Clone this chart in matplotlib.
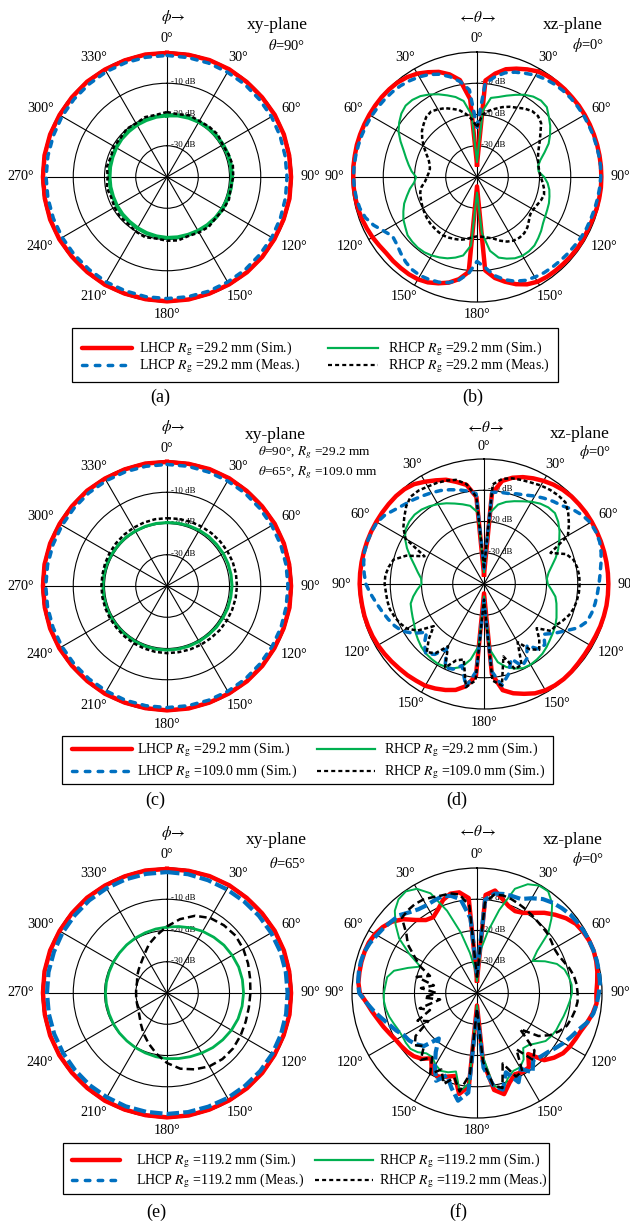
import numpy as np
import matplotlib
matplotlib.use("Agg")
import matplotlib.pyplot as plt
from matplotlib.patches import Rectangle

plt.rcParams["font.family"] = "Liberation Serif"
plt.rcParams["mathtext.fontset"] = "stix"

W, H = 630, 1224
R = 125  # radius of the polar plots in pixels

# sample angles, degrees clockwise from the top
ang_xy = np.arange(0, 360, 10)
ang_xz = np.arange(0, 360, 5)

xy_ticks = ["0°", "30°", "60°", "90°", "120°", "150°", "180°", "210°", "240°", "270°", "300°", "330°"]
xz_ticks = ["0°", "30°", "60°", "90°", "120°", "150°", "180°", "150°", "120°", "90°", "60°", "30°"]
db_rings = [-10, -20, -30]

# ---- (a) xy-plane, theta = 90 deg, Rg = 29.2 mm
a_lhcp_sim = [-0.3, -0.3, -0.2, -0.2, -0.3, -0.3, -0.2, -0.2, -0.3, -0.3, -0.2, -0.3,
              -0.3, -0.2, -0.2, -0.3, -0.3, -0.2, -0.2, -0.3, -0.3, -0.2, -0.3, -0.3,
              -0.2, -0.2, -0.3, -0.3, -0.2, -0.2, -0.3, -0.3, -0.2, -0.3, -0.3, -0.2]
a_lhcp_meas = [-1.1, -1.2, -1.2, -1.3, -1.3, -1.4, -1.4, -1.5, -1.6, -1.6, -1.5, -1.4,
               -1.3, -1.3, -1.2, -1.2, -1.1, -1.1, -1.1, -1.1, -1.2, -1.2, -1.3, -1.3,
               -1.3, -1.3, -1.3, -1.3, -1.3, -1.3, -1.2, -1.2, -1.2, -1.1, -1.1, -1.1]
a_rhcp_sim = [-20.3, -20.0, -19.8, -19.6, -19.5, -19.4, -19.3, -19.2, -19.2, -19.2, -19.3, -19.4,
              -19.5, -19.7, -19.9, -20.1, -20.3, -20.4, -20.5, -20.7, -20.9, -21.1, -21.3, -21.4,
              -21.5, -21.6, -21.6, -21.6, -21.5, -21.4, -21.2, -21.0, -20.9, -20.7, -20.6, -20.4]
a_rhcp_meas = [-19.2, -19.6, -19.0, -19.3, -19.0, -18.8, -19.4, -19.0, -18.6, -18.8, -19.3, -18.9,
               -19.2, -19.6, -19.2, -19.5, -19.9, -19.4, -19.6, -20.0, -19.5, -19.9, -20.5, -20.3,
               -20.6, -21.0, -20.4, -21.0, -20.5, -20.9, -20.4, -20.6, -19.9, -20.2, -19.6, -19.8]

# ---- (b) xz-plane, phi = 0 deg, Rg = 29.2 mm
b_lhcp_sim = [-36, -9, -6.4, -4.3, -3.1, -2.0, -1.0, -0.6, -0.4, -0.3, -0.3, -0.2, -0.2, -0.2, -0.2, -0.2, -0.2, -0.2,
              -0.2, -0.2, -0.3, -0.4, -0.6, -0.7, -0.6, -0.6, -0.7, -0.8, -0.9, -1.0, -1.3, -2.1, -3.5, -5.3, -7.2, -10,
              -37, -9.5, -6.8, -5.0, -3.8, -2.8, -2.2, -2.0, -2.0, -2.0, -2.1, -1.8, -1.4, -1.1, -0.8, -0.6, -0.5, -0.4,
              -0.4, -0.3, -0.3, -0.2, -0.2, -0.2, -0.2, -0.2, -0.2, -0.3, -0.5, -1.0, -1.8, -3.0, -4.2, -6.0, -8.5, -15]
b_lhcp_meas = [-24, -10, -7.5, -5.5, -4.3, -3.4, -2.4, -1.8, -1.3, -1.0, -0.8, -0.7, -0.6, -0.6, -0.5, -0.5, -0.4, -0.3,
               -0.4, -0.6, -0.8, -1.0, -1.2, -1.3, -1.5, -1.8, -2.0, -2.2, -2.4, -2.6, -3.0, -3.5, -4.5, -6.0, -8.0, -11,
               -13, -9, -6.5, -5.0, -4.2, -3.8, -3.6, -3.8, -4.5, -5.5, -6.5, -7.0, -5.5, -3.5, -2.0, -1.2, -0.8, -0.6,
               -0.5, -0.5, -0.6, -0.7, -0.8, -0.9, -1.0, -1.2, -1.4, -1.6, -1.9, -2.4, -3.0, -3.8, -5.0, -6.8, -9.0, -12]
b_rhcp_sim = [-35, -18.7, -14.3, -13.5, -12.3, -11.0, -9.6, -8.6, -8.1, -8.4, -10.0, -11.4, -13.0, -14.7, -17.0, -19.0, -20.2, -20.2,
              -18.5, -17.3, -16.5, -16.0, -15.5, -15.2, -14.8, -14.2, -13.2, -12.3, -11.4, -11.0, -10.9, -11.3, -12.2, -13.3, -16.0, -22,
              -35, -18, -14.5, -13.3, -12.3, -11.6, -11.0, -10.6, -10.5, -10.7, -11.0, -12.0, -12.8, -14.0, -15.2, -16.8, -18.2, -19.8,
              -20.5, -19.0, -17.8, -16.5, -15.0, -13.0, -11.0, -9.6, -8.4, -7.7, -7.8, -8.4, -9.5, -10.8, -12.2, -13.5, -15.3, -20]
b_rhcp_meas = [-24, -20, -18.5, -17.4, -16.2, -15.2, -14.4, -13.3, -12.5, -12.4, -13.2, -15.2, -16.8, -18.2, -19.2, -19.8, -20.0, -20.0,
               -19.6, -18.9, -18.2, -17.8, -18.2, -18.8, -19.2, -19.2, -18.3, -17.2, -16.5, -16.3, -16.5, -17.2, -18.3, -19.6, -20.3, -20.8,
               -21, -20.6, -19.8, -19.2, -18.9, -18.6, -18.4, -18.5, -18.7, -18.9, -19.2, -19.6, -20.0, -20.4, -20.8, -21.2, -22.0, -23.3,
               -24.0, -24.5, -24.7, -24.3, -23.5, -22.0, -20.3, -18.6, -17.0, -15.9, -14.8, -14.4, -15.0, -15.7, -16.8, -17.8, -19.5, -21.5]

# ---- (c) xy-plane, Rg = 29.2 mm and 109.0 mm
c_lhcp_29 = [-0.3, -0.3, -0.2, -0.2, -0.3, -0.3, -0.2, -0.2, -0.3, -0.3, -0.2, -0.3,
             -0.3, -0.2, -0.2, -0.3, -0.3, -0.2, -0.2, -0.3, -0.3, -0.2, -0.3, -0.3,
             -0.2, -0.2, -0.3, -0.3, -0.2, -0.2, -0.3, -0.3, -0.2, -0.3, -0.3, -0.2]
c_lhcp_109 = [-1.1, -1.1, -1.2, -1.2, -1.2, -1.3, -1.3, -1.3, -1.3, -1.3, -1.3, -1.2,
              -1.2, -1.2, -1.1, -1.1, -1.1, -1.1, -1.1, -1.1, -1.1, -1.2, -1.2, -1.2,
              -1.2, -1.2, -1.2, -1.2, -1.2, -1.2, -1.2, -1.2, -1.1, -1.1, -1.1, -1.1]
c_rhcp_29 = [-19.7, -19.6, -19.5, -19.4, -19.3, -19.3, -19.2, -19.2, -19.2, -19.2, -19.3, -19.3,
             -19.4, -19.4, -19.5, -19.5, -19.5, -19.5, -19.5, -19.5, -19.5, -19.5, -19.5, -19.5,
             -19.5, -19.5, -19.5, -19.5, -19.5, -19.5, -19.6, -19.6, -19.6, -19.7, -19.7, -19.7]
c_rhcp_109 = [-18.3, -18.2, -18.1, -18.0, -17.9, -17.8, -17.7, -17.6, -17.6, -17.6, -17.7, -17.8,
              -17.9, -18.0, -18.2, -18.3, -18.4, -18.5, -18.5, -18.6, -18.7, -18.8, -18.9, -19.0,
              -19.0, -19.0, -19.0, -19.0, -19.0, -18.9, -18.8, -18.7, -18.6, -18.5, -18.4, -18.3]

# ---- (d) xz-plane, Rg = 29.2 mm and 109.0 mm
d_lhcp_29 = [-37, -11, -6.5, -4.8, -3.6, -2.7, -1.9, -1.2, -0.7, -0.4, -0.3, -0.2, -0.2, -0.2, -0.2, -0.2, -0.2, -0.2,
             -0.2, -0.2, -0.2, -0.3, -0.4, -0.6, -0.7, -0.7, -0.6, -0.4, -0.3, -0.4, -0.7, -1.4, -2.6, -3.8, -5.5, -11,
             -37, -10.5, -6.8, -4.9, -3.9, -3.1, -2.4, -2.2, -1.9, -1.7, -1.4, -1.1, -0.8, -0.6, -0.5, -0.4, -0.4, -0.3,
             -0.2, -0.2, -0.2, -0.2, -0.2, -0.2, -0.2, -0.2, -0.2, -0.2, -0.4, -1.0, -2.2, -3.4, -4.5, -6.2, -7.8, -12]
d_lhcp_109 = [-35, -10.5, -10.2, -10.0, -9.3, -8.6, -7.5, -6.5, -5.5, -4.6, -2.9, -1.6, -0.7, -0.5, -0.6, -1.2, -2.0, -2.7,
              -3.2, -3.6, -3.9, -4.3, -4.9, -6.8, -10.0, -12.5, -15.0, -12.5, -12.8, -16.0, -12.5, -11.0, -14.5, -10.0, -7.0, -12,
              -35, -12, -6.5, -13, -11, -10.5, -16, -12.5, -11, -13, -16, -12.5, -9.8, -8.4, -7.3, -6.2, -5.0, -3.6,
              -2.2, -1.5, -0.9, -0.4, -0.3, -0.3, -0.5, -1.4, -2.9, -4.0, -4.8, -5.6, -6.3, -7.0, -7.9, -8.8, -9.8, -11]
d_rhcp_29 = [-36, -17, -14.2, -12.8, -11.8, -10.8, -9.6, -8.6, -8.0, -7.9, -9.0, -10.5, -12.2, -13.8, -15.6, -17.5, -19.0, -19.8,
             -19.6, -18.3, -16.8, -16.0, -15.3, -14.4, -13.6, -13.0, -12.4, -11.6, -10.9, -10.5, -10.2, -10.3, -11.2, -12.5, -14.6, -19,
             -36, -20, -15.5, -12.5, -11.3, -10.8, -10.5, -10.7, -11.0, -11.6, -12.4, -13.2, -14.2, -14.8, -15.3, -15.7, -17.0, -18.5,
             -20.0, -19.8, -18.5, -17.0, -15.0, -12.8, -10.8, -9.4, -8.8, -8.6, -8.9, -9.6, -10.5, -11.5, -12.6, -13.6, -14.6, -17]
d_rhcp_109 = [-35, -8, -5.8, -5.0, -4.6, -4.2, -3.6, -3.2, -3.0, -3.1, -4.8, -6.8, -9.0, -16.5, -12.0, -10.3, -9.7, -9.4,
              -9.4, -9.5, -9.8, -10.2, -11.0, -12.2, -13.5, -13.8, -18.0, -15.0, -12.5, -14.5, -18.5, -11.5, -11.0, -16.0, -7.0, -9,
              -35, -9, -6.5, -15, -14, -10.5, -17, -13, -11.5, -15, -19, -14, -11.5, -10.3, -9.5, -8.8, -8.6, -8.5,
              -8.2, -8.3, -9.0, -10.0, -13.5, -19.0, -11.0, -8.5, -6.7, -4.8, -3.5, -3.5, -4.0, -4.3, -4.8, -5.5, -7.5, -12]

# ---- (e) xy-plane, theta = 65 deg, Rg = 119.2 mm
e_lhcp_sim = [-0.3, -0.3, -0.2, -0.2, -0.3, -0.3, -0.2, -0.2, -0.3, -0.3, -0.2, -0.3,
              -0.3, -0.2, -0.2, -0.3, -0.3, -0.2, -0.2, -0.3, -0.3, -0.2, -0.3, -0.3,
              -0.2, -0.2, -0.3, -0.3, -0.2, -0.2, -0.3, -0.3, -0.2, -0.3, -0.3, -0.2]
e_lhcp_meas = [-1.3, -1.4, -1.6, -1.7, -1.7, -1.6, -1.5, -1.4, -1.4, -1.4, -1.3, -1.2,
               -1.1, -1.1, -1.2, -1.2, -1.3, -1.3, -1.3, -1.4, -1.4, -1.5, -1.5, -1.6,
               -1.6, -1.6, -1.6, -1.6, -1.5, -1.5, -1.4, -1.4, -1.3, -1.3, -1.3, -1.3]
e_rhcp_sim = [-18.9, -18.4, -17.8, -17.2, -16.7, -16.2, -15.9, -15.6, -15.5, -15.5, -15.6, -15.8,
              -16.2, -16.7, -17.2, -17.8, -18.3, -18.7, -19.0, -19.3, -19.6, -19.8, -20.0, -20.1,
              -20.2, -20.3, -20.3, -20.3, -20.3, -20.3, -20.2, -20.1, -19.9, -19.7, -19.5, -19.2]
e_rhcp_meas = [-18.7, -16.0, -13.7, -12.3, -11.7, -11.4, -11.8, -12.4, -13.0, -13.3, -13.4, -13.2,
               -12.8, -12.4, -12.4, -12.9, -14.0, -15.4, -17.6, -20.3, -22.8, -25.0, -27.0, -28.5,
               -29.4, -29.8, -30.0, -30.1, -30.0, -29.8, -29.0, -28.2, -27.2, -25.6, -23.3, -21.2]

# ---- (f) xz-plane, phi = 0 deg, Rg = 119.2 mm
f_lhcp_sim = [-36, -8.5, -6.7, -8.8, -10.4, -11.1, -10.4, -8.7, -6.5, -4.6, -2.8, -1.4, -0.8, -0.4, -0.3, -0.5, -0.9, -1.4,
              -1.8, -1.6, -2.4, -3.5, -4.6, -5.2, -5.7, -6.4, -7.8, -9.6, -14.5, -11.0, -10.8, -11.3, -9.5, -6.5, -8.5, -18,
              -36, -10, -7.2, -12.5, -11.5, -10.5, -11.0, -14.5, -12.5, -11.4, -10.8, -10.4, -10.0, -9.2, -8.2, -7.2, -5.9, -4.5,
              -2.5, -1.9, -1.8, -1.7, -1.7, -1.8, -2.3, -3.2, -4.5, -6.6, -9.5, -11.5, -12.0, -10.5, -8.3, -7.1, -7.3, -9.5]
f_lhcp_meas = [-34, -10, -7.7, -7.2, -7.0, -6.8, -5.0, -3.3, -2.3, -1.6, -1.0, -0.7, -0.5, -0.4, -0.3, -0.3, -0.4, -0.5,
               -1.0, -1.5, -2.2, -3.5, -5.5, -6.8, -8.0, -9.3, -10.5, -11.2, -12.0, -9.0, -12.0, -8.5, -13.0, -8.0, -10.0, -16,
               -34, -8, -5, -8.5, -12, -9, -13, -17, -21, -16, -14.5, -13.5, -13.0, -11.5, -10.2, -8.5, -6.5, -4.5,
               -2.3, -1.8, -1.6, -1.5, -1.6, -2.2, -3.0, -3.6, -4.3, -4.8, -6.3, -7.3, -7.6, -7.4, -7.1, -7.8, -9.5, -16]
f_rhcp_sim = [-36, -26, -20, -12.5, -4.5, -1.6, -0.3, -0.3, -2.6, -6.3, -10.3, -16.5, -19.5, -16.0, -12.8, -11.0, -10.2, -9.6,
              -9.6, -10.2, -10.8, -11.3, -11.8, -12.0, -12.5, -13.2, -15.0, -16.5, -17.0, -14.0, -12.5, -12.5, -11.0, -8.0, -10.0, -20,
              -36, -11, -8, -14, -13, -12.5, -13.5, -15, -14.8, -13.2, -12.2, -12.2, -12.4, -12.2, -11.6, -10.9, -10.4, -10.1,
              -10.2, -10.6, -10.8, -12.5, -16.5, -20.0, -15.0, -9.6, -6.0, -2.8, -0.9, -0.3, -1.5, -4.8, -12.0, -20.0, -27.0, -32]
f_rhcp_meas = [-35, -11, -8, -7.7, -8.0, -8.5, -9.0, -9.5, -10.0, -10.3, -10.5, -11.0, -11.5, -11.3, -10.5, -9.4, -8.5, -8.0,
               -7.8, -7.7, -8.1, -8.7, -9.4, -11.0, -13.0, -16.0, -22.0, -14.0, -12.0, -18.0, -11.0, -10.5, -16.0, -8.5, -10.0, -18,
               -35, -14, -8, -12, -9, -13, -10, -15, -12, -16, -14, -16, -22, -19, -24, -21, -28, -23,
               -27, -22, -26, -20, -24, -20, -17, -13, -10.5, -6.0, -5.5, -5.3, -5.5, -6.2, -6.8, -7.0, -8.0, -12]

RED, BLUE, GREEN = "#ff0000", "#0070c0", "#00b050"

fig = plt.figure(figsize=(W / 100, H / 100), dpi=100)


def panel(cx, cy, ticks):
    ax = fig.add_axes([(cx - R) / W, 1 - (cy + R) / H, 2 * R / W, 2 * R / H], projection="polar")
    ax.set_theta_zero_location("N")
    ax.set_theta_direction(-1)
    ax.set_ylim(-40, 0)
    ax.set_rgrids(db_rings, labels=[""] * 3)
    ax.set_thetagrids(np.arange(0, 360, 30), labels=[""] * 12)
    ax.grid(True, color="black", lw=0.8)
    ax.spines["polar"].set_color("black")
    ax.spines["polar"].set_linewidth(0.9)
    ax.set_axisbelow(True)
    ax.tick_params(length=0, pad=0)
    for a, lab in zip(range(0, 360, 30), ticks):
        t = np.deg2rad(a)
        hw = (7.1 * (len(lab) - 1) + 5.7) / 2
        ax.annotate(lab, xy=(t, 0), xytext=((8 + hw) * np.sin(t), (8 + 5) * np.cos(t)),
                    textcoords="offset pixels", ha="center", va="center",
                    fontsize=10.2, annotation_clip=False)
    for r in db_rings:
        ax.annotate("%d dB" % r, xy=(0, r), xytext=(4, 1), textcoords="offset pixels",
                    ha="left", va="center", fontsize=6.3, zorder=1)
    return ax


def curve(ax, ang, vals, **kw):
    t = np.deg2rad(np.append(ang, 360))
    r = np.append(vals, vals[0])
    ax.plot(t, r, clip_on=False, **kw)


red = dict(color=RED, lw=3.2, solid_joinstyle="round", zorder=3)
blue_dot = dict(color=BLUE, lw=2.5, ls=(0, (1.6, 2.0)), dash_capstyle="round", zorder=5)
blue_long = dict(color=BLUE, lw=3.0, ls=(0, (3.0, 1.0)), zorder=5)
black_dot = dict(color="black", lw=1.8, ls=(0, (1.6, 1.0)), zorder=6)
black_dash = dict(color="black", lw=1.8, ls=(0, (3.0, 1.6)), zorder=6)

# (a)
ax = panel(167, 177, xy_ticks)
curve(ax, ang_xy, a_lhcp_sim, **red)
curve(ax, ang_xy, a_lhcp_meas, **blue_dot)
curve(ax, ang_xy, a_rhcp_sim, color=GREEN, lw=2.9, zorder=4)
curve(ax, ang_xy, a_rhcp_meas, **black_dot)

# (b)
ax = panel(477, 177, xz_ticks)
curve(ax, ang_xz, b_lhcp_sim, **red)
curve(ax, ang_xz, b_lhcp_meas, **blue_dot)
curve(ax, ang_xz, b_rhcp_sim, color=GREEN, lw=1.5, zorder=4)
curve(ax, ang_xz, b_rhcp_meas, **black_dot)

# (c)
ax = panel(167, 586, xy_ticks)
curve(ax, ang_xy, c_lhcp_29, **red)
curve(ax, ang_xy, c_lhcp_109, **blue_dot)
curve(ax, ang_xy, c_rhcp_29, color=GREEN, lw=2.2, zorder=4)
curve(ax, ang_xy, c_rhcp_109, **black_dot)

# (d)
ax = panel(484, 584, xz_ticks)
curve(ax, ang_xz, d_lhcp_29, **red)
curve(ax, ang_xz, d_lhcp_109, **blue_dot)
curve(ax, ang_xz, d_rhcp_29, color=GREEN, lw=1.5, zorder=4)
curve(ax, ang_xz, d_rhcp_109, **black_dot)

# (e)
ax = panel(167, 993, xy_ticks)
curve(ax, ang_xy, e_lhcp_sim, **red)
curve(ax, ang_xy, e_lhcp_meas, **blue_long)
curve(ax, ang_xy, e_rhcp_sim, color=GREEN, lw=2.0, zorder=4)
curve(ax, ang_xy, e_rhcp_meas, **black_dash)

# (f)
ax = panel(477, 993, xz_ticks)
curve(ax, ang_xz, f_lhcp_sim, **red)
curve(ax, ang_xz, f_lhcp_meas, **blue_long)
curve(ax, ang_xz, f_rhcp_sim, color=GREEN, lw=1.4, zorder=4)
curve(ax, ang_xz, f_rhcp_meas, **black_dash)

# overlay in pixel coordinates for titles, legends and panel letters
lay = fig.add_axes([0, 0, 1, 1])
lay.set_xlim(0, W)
lay.set_ylim(H, 0)
lay.axis("off")
lay.patch.set_alpha(0)

for x, y, s in [(173, 17, r"$\phi\!\rightarrow$"), (477, 17, r"$\leftarrow\!\theta\!\rightarrow$"),
                (173, 427, r"$\phi\!\rightarrow$"), (485, 427, r"$\leftarrow\!\theta\!\rightarrow$"),
                (173, 833, r"$\phi\!\rightarrow$"), (477, 832, r"$\leftarrow\!\theta\!\rightarrow$")]:
    lay.text(x, y, s, ha="center", va="center", fontsize=11)

for x, y, s in [(277, 25, "xy-plane"), (573, 25, "xz-plane"), (275, 435, "xy-plane"),
                (580, 434, "xz-plane"), (276, 840, "xy-plane"), (573, 840, "xz-plane")]:
    lay.text(x, y, s, ha="center", va="center", fontsize=12.5)

for x, y, s in [(287, 45, r"$\theta$=90°"), (588, 45, r"$\phi$=0°"), (595, 452, r"$\phi$=0°"),
                (288, 863, r"$\theta$=65°"), (588, 859, r"$\phi$=0°")]:
    lay.text(x, y, s, ha="center", va="center", fontsize=10.5)
lay.text(258, 453, r"$\theta$=90°, $R_g$ =29.2 mm", ha="left", va="center", fontsize=9.6)
lay.text(258, 473, r"$\theta$=65°, $R_g$ =109.0 mm", ha="left", va="center", fontsize=9.6)

for x, y, s in [(160, 397, "(a)"), (473, 397, "(b)"), (155, 800, "(c)"),
                (457, 800, "(d)"), (156, 1212, "(e)"), (458, 1212, "(f)")]:
    lay.text(x, y, s, ha="center", va="center", fontsize=13)

leg_red = dict(color=RED, lw=3.2, solid_capstyle="round")
leg_blue = dict(color=BLUE, lw=2.5, ls=(0, (1.3, 2.4)), dash_capstyle="round")
leg_green = dict(color=GREEN, lw=1.6)
leg_black = dict(color="black", lw=1.6, ls=(0, (1.8, 1.4)))


def legend_box(box, cols, rows, entries):
    x0, y0, x1, y1 = box
    lay.add_patch(Rectangle((x0, y0), x1 - x0, y1 - y0, fill=False, ec="black", lw=0.9))
    for (col, row), (style, label) in entries:
        hx0, hx1, tx = cols[col]
        y = rows[row]
        lay.plot([hx0, hx1], [y, y], **style)
        lay.text(tx, y + 4.5, label, ha="left", va="baseline", fontsize=10)


legend_box((72, 328, 558, 382), [(82, 132, 139), (328, 378, 388)], [348, 365],
           [((0, 0), (leg_red, r"LHCP $R_\mathrm{g}$ =29.2 mm (Sim.)")),
            ((0, 1), (leg_blue, r"LHCP $R_\mathrm{g}$ =29.2 mm (Meas.)")),
            ((1, 0), (leg_green, r"RHCP $R_\mathrm{g}$ =29.2 mm (Sim.)")),
            ((1, 1), (leg_black, r"RHCP $R_\mathrm{g}$ =29.2 mm (Meas.)"))])
legend_box((62, 736, 553, 784), [(72, 132, 137), (317, 375, 384)], [749, 771],
           [((0, 0), (leg_red, r"LHCP $R_\mathrm{g}$ =29.2 mm (Sim.)")),
            ((0, 1), (leg_blue, r"LHCP $R_\mathrm{g}$ =109.0 mm (Sim.)")),
            ((1, 0), (leg_green, r"RHCP $R_\mathrm{g}$ =29.2 mm (Sim.)")),
            ((1, 1), (leg_black, r"RHCP $R_\mathrm{g}$ =109.0 mm (Sim.)"))])
legend_box((63, 1143, 549, 1194), [(72, 120, 136), (315, 373, 379)], [1160, 1180],
           [((0, 0), (leg_red, r"LHCP $R_\mathrm{g}$ =119.2 mm (Sim.)")),
            ((0, 1), (leg_blue, r"LHCP $R_\mathrm{g}$ =119.2 mm (Meas.)")),
            ((1, 0), (leg_green, r"RHCP $R_\mathrm{g}$ =119.2 mm (Sim.)")),
            ((1, 1), (leg_black, r"RHCP $R_\mathrm{g}$ =119.2 mm (Meas.)"))])

fig.savefig("out.png", dpi=100, facecolor="white")
